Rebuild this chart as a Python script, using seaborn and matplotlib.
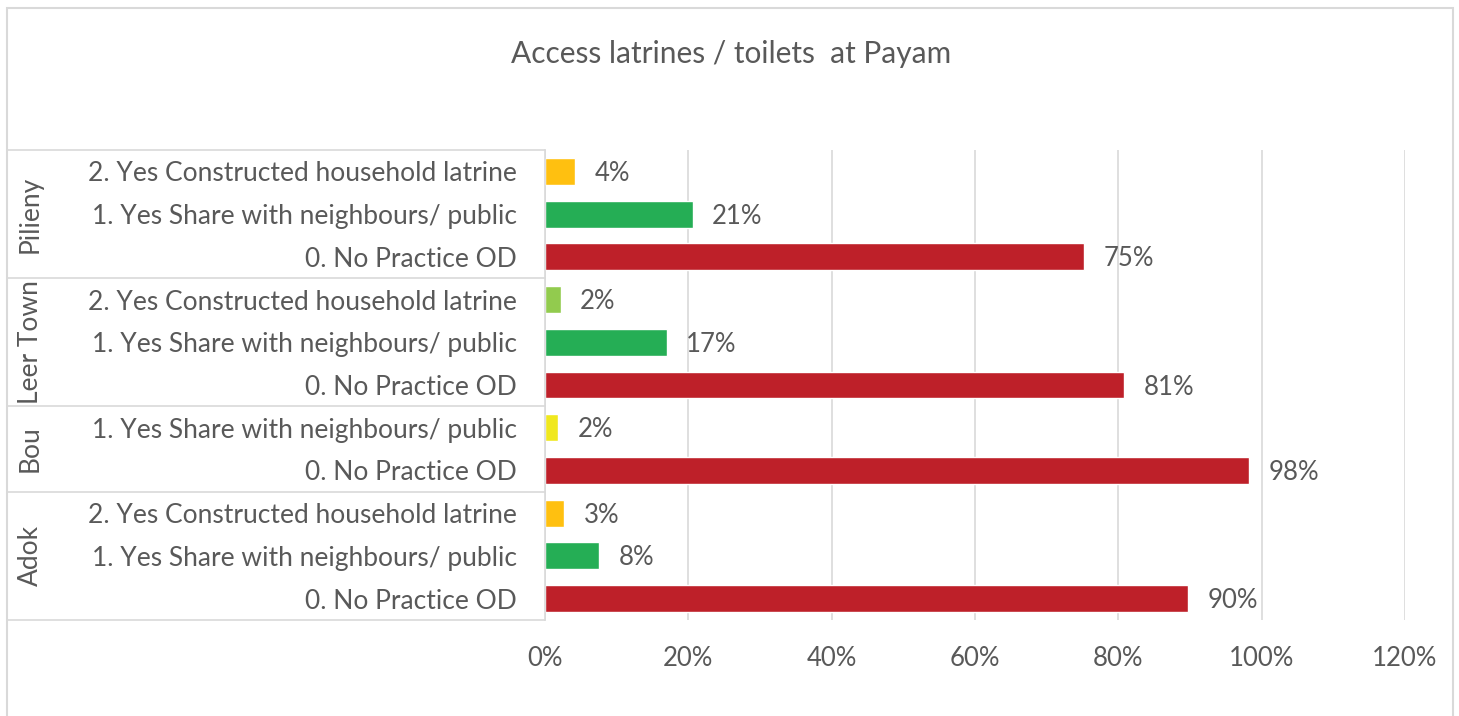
import matplotlib
matplotlib.use("Agg")
import matplotlib.pyplot as plt
import seaborn as sns
import pandas as pd
from matplotlib.patches import Rectangle
from matplotlib.lines import Line2D
from matplotlib.ticker import PercentFormatter

# Survey results: access to latrines / toilets by payam
regions = ["Pilieny", "Pilieny", "Pilieny",
           "Leer Town", "Leer Town", "Leer Town",
           "Bou", "Bou",
           "Adok", "Adok", "Adok"]
responses = ["2. Yes Constructed household latrine",
             "1. Yes Share with neighbours/ public",
             "0. No Practice OD",
             "2. Yes Constructed household latrine",
             "1. Yes Share with neighbours/ public",
             "0. No Practice OD",
             "1. Yes Share with neighbours/ public",
             "0. No Practice OD",
             "2. Yes Constructed household latrine",
             "1. Yes Share with neighbours/ public",
             "0. No Practice OD"]
shares = [0.042, 0.206, 0.752,
          0.022, 0.170, 0.808,
          0.018, 0.982,
          0.027, 0.076, 0.897]
bar_colors = ["#FFC010", "#25AE55", "#BE2029",
              "#92CB4E", "#25AE55", "#BE2029",
              "#F0E81E", "#BE2029",
              "#FFC010", "#25AE55", "#BE2029"]
x_ticks = [0.0, 0.2, 0.4, 0.6, 0.8, 1.0, 1.2]

TEXT = "#595959"
LINE = "#D9D9D9"
FONT = "Lato"

sns.set_theme(style="white")
plt.rcParams["font.family"] = [FONT, "DejaVu Sans"]

row_ids = [f"{r}|{i}" for i, r in enumerate(regions)]
df = pd.DataFrame({"row": row_ids, "region": regions,
                   "response": responses, "share": shares})

W, H = 1459, 716
fig = plt.figure(figsize=(W / 100, H / 100), dpi=100)
ax = fig.add_axes([545 / W, 1 - 620 / H, (1405 - 545) / W, (620 - 150) / H])

sns.barplot(data=df, x="share", y="row", hue="row", order=row_ids,
            palette=dict(zip(row_ids, bar_colors)), legend=False,
            width=0.63, orient="h", saturation=1, ax=ax)

n = len(row_ids)
ax.set_ylim(n - 0.5, -0.5)
ax.set_xlim(0, 1.2)
ax.set_xticks(x_ticks)
ax.xaxis.set_major_formatter(PercentFormatter(1.0, decimals=0))
ax.set_yticks(range(n))
ax.set_yticklabels(responses)
ax.set_xlabel("")
ax.set_ylabel("")
ax.tick_params(axis="y", length=0, pad=20, labelsize=19, labelcolor=TEXT)
ax.tick_params(axis="x", length=0, pad=19, labelsize=18.5, labelcolor=TEXT)

ax.grid(axis="x", color=LINE, lw=1.2)
ax.grid(axis="y", visible=False)
ax.set_axisbelow(True)
for side in ("top", "right", "bottom"):
    ax.spines[side].set_visible(False)
ax.spines["left"].set_color(LINE)
ax.spines["left"].set_linewidth(1.2)

# Value labels
for i, v in enumerate(shares):
    ax.annotate(f"{v:.0%}", xy=(v, i), xytext=(14, -1.5),
                textcoords="offset points", ha="left", va="center",
                fontsize=18.5, color=TEXT)

# Grouped category axis: separators and rotated region names
ytrans = ax.get_yaxis_transform()
x_left = (8 - 545) / 860
groups = []
for i, r in enumerate(regions):
    if not groups or groups[-1][0] != r:
        groups.append([r, i, i])
    else:
        groups[-1][2] = i
bounds = [groups[0][1] - 0.5] + [g[2] + 0.5 for g in groups]
for b in bounds:
    ax.add_line(Line2D([x_left, 0], [b, b], transform=ytrans, color=LINE,
                       lw=1.2, clip_on=False))
for name, start, end in groups:
    ax.text((30 - 545) / 860, (start + end) / 2, name, transform=ytrans,
            rotation=90, ha="center", va="center", fontsize=19, color=TEXT)

fig.text(731 / W, 1 - 54 / H, "Access latrines / toilets  at Payam",
         ha="center", va="center", fontsize=21.5, color=TEXT)

# Chart frame
fig.add_artist(Rectangle((7 / W, -0.05), (1453 - 7) / W, (1.05 - 8 / H),
                         transform=fig.transFigure, fill=False,
                         edgecolor=LINE, lw=1.5))

fig.savefig("out.png", dpi=100, facecolor="white")
